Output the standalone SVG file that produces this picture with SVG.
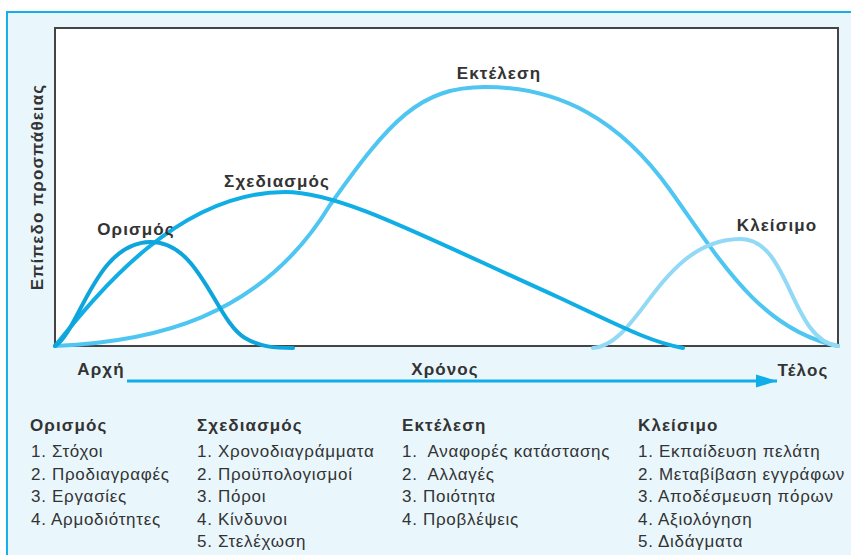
<svg xmlns="http://www.w3.org/2000/svg" width="851" height="555" viewBox="0 0 851 555">
<defs>
<style>
.lbl{font-family:"Liberation Sans",Arial,sans-serif;font-weight:bold;font-size:17px;letter-spacing:1.1px;fill:#333}
.itm{font-family:"Liberation Sans",Arial,sans-serif;font-size:17px;letter-spacing:0.7px;fill:#333}
.crv{fill:none;stroke-width:4;stroke-linecap:round}
</style>
<marker id="ah" markerWidth="7" markerHeight="4.4" refX="7" refY="2.2" orient="auto" markerUnits="strokeWidth">
<path d="M0,0 L7,2.2 L0,4.4 Z" fill="#10aee8"/>
</marker>
</defs>
<rect x="0" y="0" width="851" height="555" fill="#fff"/>
<rect x="7" y="12" width="850" height="560" fill="#e9f7fd" stroke="#15b0e8" stroke-width="2"/>
<rect id="plot" x="55" y="28" width="783" height="318" fill="#fff" stroke="#444" stroke-width="2"/>
<text class="lbl" transform="translate(43,187) rotate(-90)" text-anchor="middle">Επίπεδο προσπάθειας</text>
<g id="connectors">
<path id="c-exec" class="crv" stroke="#4ec6f1" d="M55,346 C150,342 260,320 330,205 C390,120 420,87 485,87 C560,87 620,120 670,190 C720,260 760,330 838,346"/>
<path id="c-close" class="crv" stroke="#92d9f6" d="M593,348 C640,345 660,240 740,239 C790,238 790,340 838,346"/>
<path id="c-plan" class="crv" stroke="#10aee5" d="M55,346 C100,290 180,192 285,192 C340,192 420,235 560,298 C620,326 650,342 683,348"/>
<path id="c-def" class="crv" stroke="#0ea5dc" d="M55,346 C80,330 95,243 150,242 C200,241 215,320 245,338 C260,347 275,348 293,348"/>
<line x1="127" y1="381" x2="777" y2="381" stroke="#10aee8" stroke-width="3" marker-end="url(#ah)"/>
</g>
<g id="n-def"><text class="lbl" x="136" y="235" text-anchor="middle">Ορισμός</text></g>
<g id="n-plan"><text class="lbl" x="277" y="187" text-anchor="middle">Σχεδιασμός</text></g>
<g id="n-exec"><text class="lbl" x="499" y="79" text-anchor="middle">Εκτέλεση</text></g>
<g id="n-close"><text class="lbl" x="777" y="231" text-anchor="middle">Κλείσιμο</text></g>
<g id="axis">
<text class="lbl" x="101" y="375" text-anchor="middle">Αρχή</text>
<text class="lbl" x="445" y="375" text-anchor="middle">Χρόνος</text>
<text class="lbl" x="803" y="376" text-anchor="middle">Τέλος</text>
</g>
<g id="col1">
<text class="lbl" x="30" y="431">Ορισμός</text>
<text class="itm" x="31" y="457">1. Στόχοι</text>
<text class="itm" x="31" y="479.5">2. Προδιαγραφές</text>
<text class="itm" x="31" y="502">3. Εργασίες</text>
<text class="itm" x="31" y="524.5">4. Αρμοδιότητες</text>
</g>
<g id="col2">
<text class="lbl" x="197" y="431">Σχεδιασμός</text>
<text class="itm" x="197" y="457">1. Χρονοδιαγράμματα</text>
<text class="itm" x="197" y="479.5">2. Προϋπολογισμοί</text>
<text class="itm" x="197" y="502">3. Πόροι</text>
<text class="itm" x="197" y="524.5">4. Κίνδυνοι</text>
<text class="itm" x="197" y="547">5. Στελέχωση</text>
</g>
<g id="col3">
<text class="lbl" x="402" y="431">Εκτέλεση</text>
<text class="itm" x="402" y="457" xml:space="preserve">1.  Αναφορές κατάστασης</text>
<text class="itm" x="402" y="479.5" xml:space="preserve">2.  Αλλαγές</text>
<text class="itm" x="402" y="502">3. Ποιότητα</text>
<text class="itm" x="402" y="524.5">4. Προβλέψεις</text>
</g>
<g id="col4">
<text class="lbl" x="638" y="431">Κλείσιμο</text>
<text class="itm" x="638" y="457">1. Εκπαίδευση πελάτη</text>
<text class="itm" x="638" y="479.5">2. Μεταβίβαση εγγράφων</text>
<text class="itm" x="638" y="502">3. Αποδέσμευση πόρων</text>
<text class="itm" x="638" y="524.5">4. Αξιολόγηση</text>
<text class="itm" x="638" y="547">5. Διδάγματα</text>
</g>
</svg>
